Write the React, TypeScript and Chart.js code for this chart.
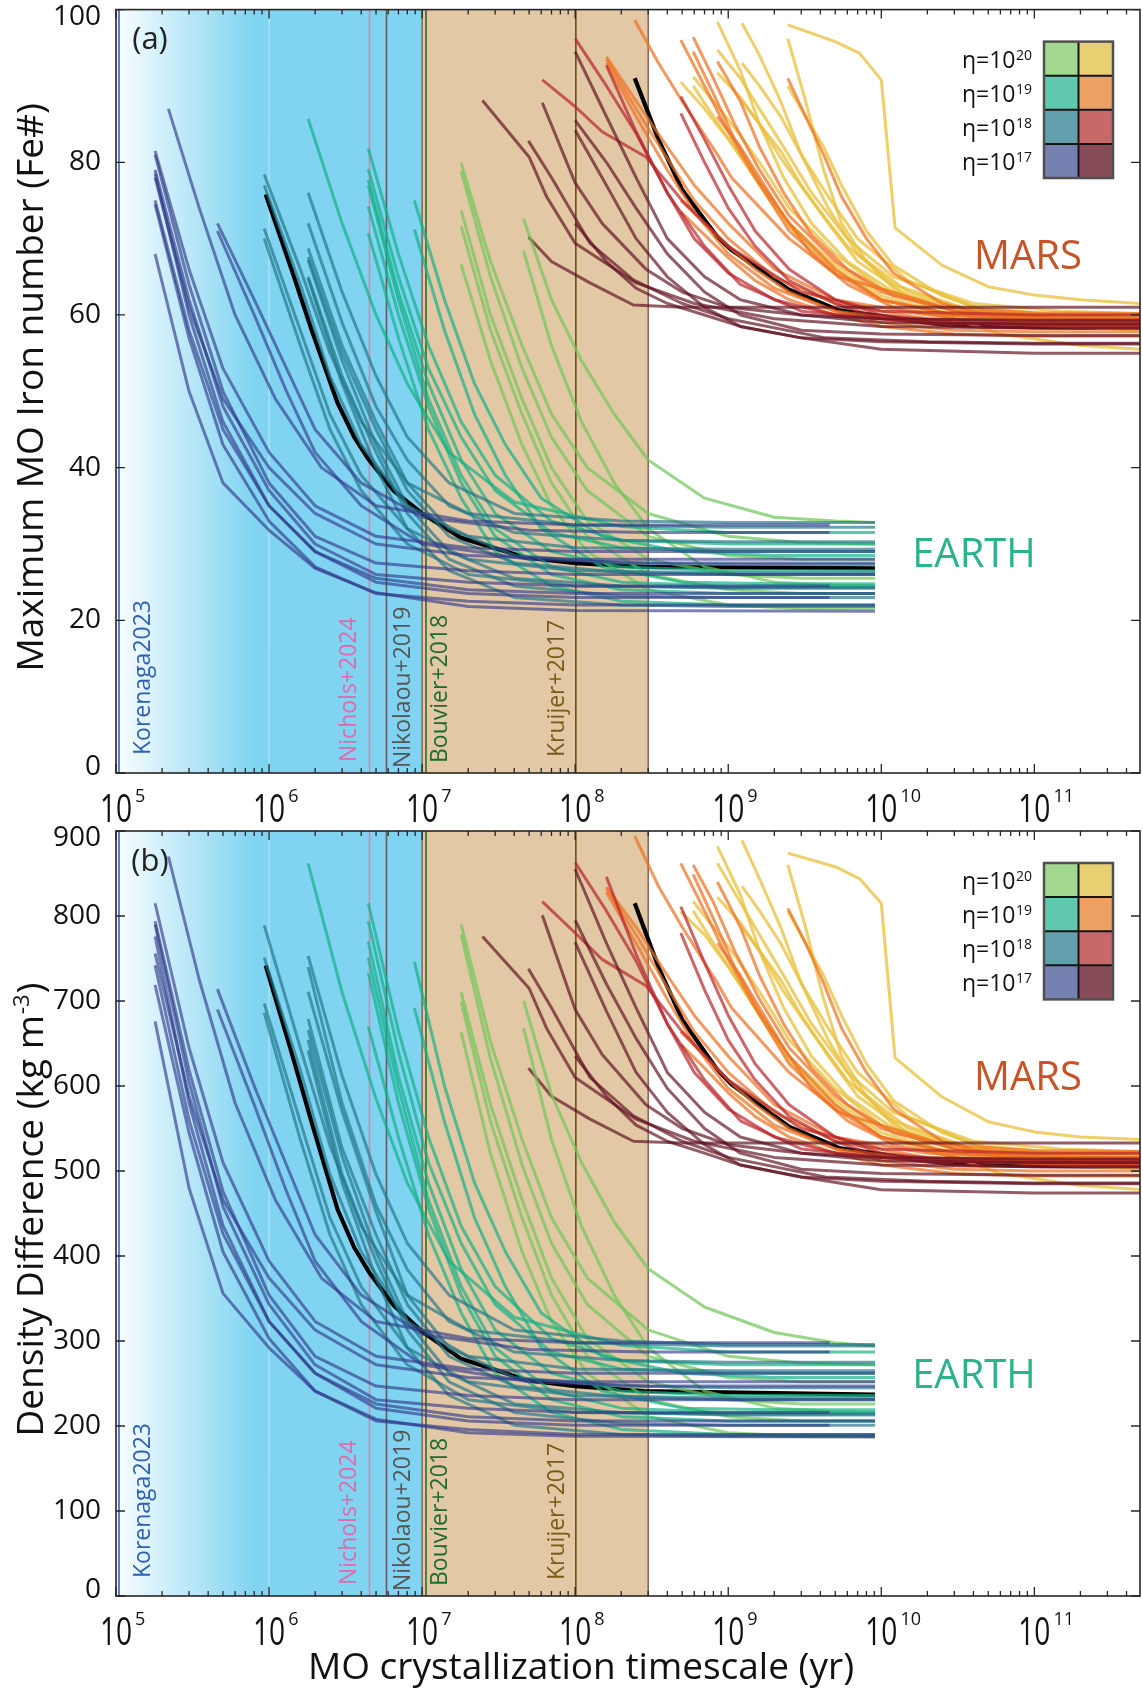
import React, { useEffect, useRef } from 'react';
import { Chart, registerables } from 'chart.js';

Chart.register(...registerables);

// ---------- axes ----------
const X_MIN = 1e5;
const X_MAX = 4.9e11;
const DECADES = [5, 6, 7, 8, 9, 10, 11];
const FE_TICKS = [0, 20, 40, 60, 80, 100];
const RHO_TICKS = [0, 100, 200, 300, 400, 500, 600, 700, 800, 900];

// ---------- shaded periods / literature markers ----------
const BLUE_BAND = [1e5, 1e7];
const BLUE_FADE_END = 8e5;
const TAN_BAND = [1e7, 3e8];
const REF_NAMES = ['Korenaga2023', 'Nichols+2024', 'Nikolaou+2019', 'Bouvier+2018', 'Kruijer+2017'];
const REF_TIMES = [1.046e5, 4.53e6, 5.85e6, 1.06e7, 1.01e8];
const REF_LINE_COLORS = ['#2f5fc0', '#e47ab8', '#5c5c5c', '#2a6a2e', '#6d4c14'];
const REF_TEXT_COLORS = ['#2d5fb4', '#e06aaa', '#555555', '#1e6b30', '#7a5a18'];

// ---------- legend ----------
const ETA_LABELS = [20, 19, 18, 17];

// ---------- Earth simulations ----------
const EARTH_GROUP_TIMES = [
  [1.8e5, 3e5, 5e5, 1e6, 2e6, 5e6, 2e7, 1e8],
  [2.2e5, 3.5e5, 6e5, 1.1e6, 2.2e6, 5e6, 2e7, 1e8],
  [4.6e5, 8e5, 1.3e6, 2e6, 4e6, 1e7, 5e7, 3e8],
  [9.3e5, 1.6e6, 2.5e6, 4e6, 8e6, 2e7, 1e8, 1e9],
  [1.8e6, 3e6, 5e6, 8e6, 1.5e7, 4e7, 2e8, 1e9],
  [4.45e6, 7e6, 1.1e7, 1.8e7, 3e7, 7e7, 2e8, 1e9],
  [8.9e6, 1.4e7, 2.2e7, 3.5e7, 6e7, 1.5e8, 5e8, 2e9],
  [1.8e7, 2.8e7, 4.5e7, 7e7, 1.2e8, 3e8, 1e9, 3e9],
  [4.6e7, 7e7, 1.1e8, 1.8e8, 3e8, 7e8, 2e9, 5e9],
];
const EARTH_GROUP = [1, 0, 0, 0, 0, 0, 0, 0, 0, 2, 2, 3, 3, 3, 3, 4, 4, 4, 4, 4, 4, 4, 4, 5, 5, 5, 5, 5, 5, 6, 6, 7, 7, 7, 7, 7, 8, 8];
const EARTH_ETA = [17, 17, 17, 17, 17, 17, 17, 17, 17, 17, 17, 18, 18, 18, 18, 18, 18, 18, 18, 18, 18, 18, 19, 19, 19, 19, 19, 19, 19, 19, 19, 20, 20, 20, 20, 20, 20, 20];
const EARTH_END = [4.6e9, 9.1e9, 9.1e9, 4.6e9, 9.1e9, 9.1e9, 4.6e9, 9.1e9, 9.1e9, 4.6e9, 9.1e9, 9.1e9, 9.1e9, 9.1e9, 9.1e9, 9.1e9, 9.1e9, 9.1e9, 9.1e9, 9.1e9, 9.1e9, 9.1e9, 9.1e9, 9.1e9, 9.1e9, 9.1e9, 9.1e9, 9.1e9, 9.1e9, 9.1e9, 9.1e9, 9.1e9, 9.1e9, 9.1e9, 9.1e9, 9.1e9, 9.1e9, 9.1e9];
const EARTH_FE = [
  [87, 74, 60, 49, 40, 35, 33, 32.5, 32.5],
  [81.5, 66, 53, 42, 35, 31, 29.5, 29, 29],
  [81, 64, 50, 38, 31, 27.5, 26.5, 26, 26],
  [79, 62, 48, 37, 30, 26, 25, 24.5, 24.5],
  [78.5, 60, 46, 35, 29, 25.5, 24, 23.5, 23.5],
  [78, 61, 49, 40, 34, 30, 28.5, 28, 28],
  [75, 58, 45, 35, 29, 25, 23.5, 23, 23],
  [74.5, 57, 43, 33, 27, 23.5, 22.5, 22, 22],
  [68, 50, 38, 31.8, 26.8, 23.6, 21.8, 21.3, 21.2],
  [72, 62, 53, 45, 38, 33.5, 31.8, 31.5, 31.5],
  [71, 60, 50, 42, 35, 30, 28, 27.5, 27.5],
  [78.4, 66, 55, 46, 38, 34, 32.5, 32.2, 32.2],
  [77, 64, 52, 43, 35, 31, 29.5, 29.3, 29.3],
  [71.3, 58, 47, 39, 32, 28, 26.5, 26.2, 26.2],
  [70, 56, 45, 37, 30, 26, 24.5, 24.3, 24.3],
  [76, 63, 52, 44, 38, 34, 33, 32.8, 32.8],
  [72, 59, 48, 41, 35, 31.5, 30.5, 30.3, 30.3],
  [68.7, 56, 46, 38, 32, 28.5, 27.5, 27.3, 27.3],
  [67.6, 55, 45, 37, 31, 27.5, 26.3, 26, 26],
  [67.2, 54, 43, 35, 29, 25.5, 24.5, 24.2, 24.2],
  [65, 52, 42, 34, 28, 24.5, 23.2, 23, 23],
  [64.8, 51, 40, 32, 26.5, 23, 22, 21.8, 21.8],
  [85.7, 72, 60, 51, 42, 35.5, 32.3, 31.5, 31.5],
  [81.8, 68, 56, 46, 39, 33, 30.5, 30, 30],
  [79.1, 65, 53, 44, 37, 31.5, 29.5, 29, 29],
  [77.7, 63, 51, 41, 34, 29, 27, 26.5, 26.5],
  [77, 62, 49, 39, 32, 27, 25, 24.5, 24.5],
  [74.2, 60, 48, 38, 31, 26, 24, 23.5, 23.5],
  [70.7, 57, 45, 36, 29, 24.5, 22.5, 22, 22],
  [75, 62, 51, 43, 36, 31, 29, 28.5, 28.5],
  [71.2, 58, 47, 39, 32, 27, 25, 24.8, 24.8],
  [79.9, 67, 56, 47, 40, 34, 31, 30.2, 30],
  [78.8, 65, 53, 44, 37, 31, 28.5, 28, 28],
  [73.7, 60, 49, 40, 33, 28, 26, 25.5, 25.5],
  [71.6, 58, 47, 38, 31, 26, 24, 23.5, 23.5],
  [66.6, 54, 43, 35, 29, 24, 22, 21.5, 21.5],
  [72.6, 62, 54, 47, 41, 36, 33.5, 33, 32.8],
  [68.4, 56, 46, 38, 32, 27, 25, 24.6, 24.5],
];
const EARTH_RHO = [
  [870, 725, 580, 466, 374, 323, 303, 298, 298],
  [815, 645, 510, 394, 323, 282, 267, 262, 262],
  [794, 619, 476, 354, 282, 247, 236, 231, 231],
  [790, 605, 458, 343, 272, 231, 221, 216, 216],
  [776, 580, 436, 323, 262, 226, 211, 206, 206],
  [756, 588, 466, 374, 313, 272, 257, 252, 252],
  [742, 560, 426, 323, 262, 221, 206, 201, 201],
  [719, 545, 405, 303, 241, 206, 196, 190, 190],
  [676, 480, 356, 292, 241, 208, 192, 188, 187],
  [714, 600, 507, 425, 354, 308, 290, 287, 287],
  [690, 578, 476, 394, 323, 272, 252, 247, 247],
  [789, 645, 530, 435, 354, 313, 298, 294, 294],
  [751, 619, 496, 405, 323, 282, 267, 265, 265],
  [697, 558, 445, 364, 292, 252, 236, 233, 233],
  [686, 537, 425, 343, 272, 231, 216, 214, 214],
  [753, 612, 496, 415, 354, 313, 300, 296, 296],
  [740, 580, 460, 384, 323, 287, 277, 275, 275],
  [711, 570, 452, 354, 292, 257, 247, 245, 245],
  [679, 527, 425, 343, 282, 247, 234, 231, 231],
  [666, 517, 405, 323, 262, 226, 216, 213, 213],
  [654, 496, 394, 313, 252, 216, 203, 201, 201],
  [642, 486, 374, 292, 236, 201, 190, 188, 188],
  [862, 710, 585, 486, 394, 328, 295, 287, 287],
  [815, 665, 540, 435, 364, 303, 277, 272, 272],
  [794, 640, 510, 415, 343, 287, 267, 262, 262],
  [770, 612, 486, 384, 313, 262, 241, 236, 236],
  [751, 598, 466, 364, 292, 241, 221, 216, 216],
  [733, 580, 456, 354, 282, 231, 211, 206, 206],
  [670, 540, 425, 333, 262, 216, 196, 190, 190],
  [746, 600, 486, 405, 333, 282, 262, 257, 257],
  [692, 558, 445, 364, 292, 241, 221, 219, 219],
  [790, 652, 537, 445, 374, 313, 282, 274, 272],
  [778, 632, 507, 415, 343, 282, 257, 252, 252],
  [710, 578, 466, 374, 303, 252, 231, 226, 226],
  [699, 558, 445, 354, 282, 231, 211, 206, 206],
  [663, 520, 405, 323, 262, 211, 192, 188, 188],
  [700, 590, 510, 440, 385, 340, 310, 298, 294],
  [668, 537, 435, 354, 292, 241, 221, 217, 216],
];
const EARTH_REF_TIMES = [9.5e5, 1.4e6, 1.9e6, 2.8e6, 3.6e6, 4.5e6, 6.5e6, 1e7, 1.8e7, 4.8e7, 1e8, 2.8e8, 9.1e9];
const EARTH_REF_FE = [75.8, 66, 58, 48.5, 44, 41, 37, 34, 30.8, 28.2, 27.5, 27, 26.8];
const EARTH_REF_RHO = [742, 640, 557, 455, 410, 381, 342, 311, 279, 254, 247, 241, 237];

// ---------- Mars simulations ----------
const MARS_END = 5e11;
const MARS_GROUP_TIMES = [
  [2.48e7, 5e7, 6.5e7, 1e8, 2.5e8, 6e8, 2e9, 1e10, 1e11],
  [4.95e7, 7e7, 1.25e8, 2.4e8, 5e8, 1e9, 4.3e9, 2e10, 1e11],
  [6.1e7, 1e8, 1.5e8, 2.9e8, 5e8, 1e9, 3e9, 1e10, 1e11],
  [1e8, 1.6e8, 2.5e8, 4e8, 7e8, 1.2e9, 3e9, 1e10, 1e11],
  [1.6e8, 2.5e8, 4e8, 6e8, 1e9, 2e9, 5e9, 2e10, 1e11],
  [2.45e8, 3.5e8, 5e8, 8.5e8, 1.05e9, 2.5e9, 5.3e9, 2.6e10, 1e11],
  [4.9e8, 7e8, 1e9, 1.5e9, 2.5e9, 5e9, 1e10, 3e10, 1e11],
  [5.9e8, 8e8, 1.1e9, 1.6e9, 2.5e9, 5e9, 1e10, 3e10, 1e11],
  [8.5e8, 1.2e9, 1.6e9, 2.3e9, 3.5e9, 6e9, 1.2e10, 4e10, 1.5e11],
  [1.23e9, 1.6e9, 2.2e9, 3e9, 4.5e9, 7e9, 1.5e10, 4e10, 1.5e11],
  [2.45e9, 3.2e9, 4.2e9, 5.5e9, 8e9, 1.2e10, 2.5e10, 6e10, 2e11],
  [2.45e9, 5e9, 7.2e9, 1e10, 1.23e10, 2.5e10, 5e10, 1e11, 2e11],
];
const MARS_GROUP = [0, 1, 1, 2, 2, 3, 3, 3, 3, 3, 4, 4, 4, 4, 5, 6, 6, 6, 6, 6, 6, 7, 7, 7, 8, 8, 8, 8, 9, 9, 10, 10, 11, 7, 9, 8, 10];
const MARS_ETA = [17, 17, 17, 17, 18, 18, 17, 17, 17, 17, 19, 19, 19, 18, 19, 19, 18, 18, 20, 19, 19, 19, 19, 20, 20, 19, 20, 20, 20, 20, 20, 19, 20, 20, 20, 19, 20];
const MARS_FE = [
  [88.1, 80.7, 75.5, 69.4, 64.2, 61.5, 59.5, 58.5, 58.3, 58.3],
  [82.8, 78, 69.4, 64.6, 61.5, 59.5, 57, 56.5, 56.3, 56.3],
  [70.2, 67, 64.2, 61.3, 61, 61, 61, 61, 61, 61],
  [87.8, 77.3, 72, 66, 63, 61, 60, 59.5, 59.3, 59.3],
  [90.8, 87.3, 84, 80.7, 75, 69, 63, 60.5, 60, 60],
  [96.2, 90, 83.8, 76, 69, 64, 60.5, 59.5, 59.2, 59.2],
  [94.5, 86, 78, 70, 65, 62, 60, 59, 58.8, 58.8],
  [85.5, 80, 74, 68, 63, 60, 58, 57.5, 57.3, 57.3],
  [84.2, 77, 70, 65, 61, 58.5, 57, 56.5, 56.2, 56.2],
  [72, 67, 63.5, 61.5, 60, 58.5, 57, 55.5, 55, 55],
  [93.8, 88, 82, 77, 72, 66, 62, 60, 59.5, 59.5],
  [93.5, 87, 80.5, 75, 70, 65, 61.5, 59.5, 59, 59],
  [93, 86, 79, 73.5, 68, 63.5, 60.5, 59, 58.7, 58.7],
  [92.7, 84, 76, 70, 65.5, 62, 60, 59, 58.8, 58.8],
  [98.6, 93, 88, 81, 78, 70, 65, 61, 60.3, 60.2],
  [96, 90, 84, 78, 71, 65.5, 62, 60, 59.5, 59.5],
  [88.6, 83, 77, 71, 66, 62, 60, 59, 58.7, 58.7],
  [86.4, 80, 74, 69, 64.5, 61.5, 59.5, 58.5, 58.3, 58.3],
  [90.5, 87, 83, 78, 72, 66.5, 62.5, 60, 59.5, 59.3],
  [75, 72, 69, 66, 63, 60.5, 59, 58, 57.8, 57.8],
  [73.5, 70.5, 67.5, 64.5, 62, 60, 58.5, 57.5, 57.2, 57.2],
  [96.4, 91, 85, 79, 73, 67, 63, 60.5, 60, 60],
  [94.5, 89, 83, 77.5, 72, 66, 62, 60, 59.6, 59.5],
  [91.2, 88, 84.5, 80, 74, 68, 63.5, 60.5, 60, 59.8],
  [98.4, 92, 85, 78, 72, 67, 63, 60.5, 60, 59.8],
  [93.2, 88, 82, 76, 70.5, 66, 62.5, 60, 59.5, 59.3],
  [94.7, 91, 87, 82, 76, 70, 65, 61.5, 60.5, 60.2],
  [91.7, 88.5, 85, 80, 75, 69, 64, 60.5, 59.8, 59.5],
  [98.2, 94, 88, 81, 74, 68, 63, 60.5, 59.8, 59.5],
  [93, 90, 86, 81, 75.5, 70, 64.5, 61, 60, 59.6],
  [96.2, 88, 79, 72, 67, 63.5, 60, 57.5, 56, 55.5],
  [91, 86, 81, 75.5, 70, 65.5, 61.5, 59.5, 58.7, 58.5],
  [98, 95.8, 94.3, 90.8, 71.4, 66.5, 63.7, 62.6, 62, 61.5],
  [90, 86, 82, 77, 71.5, 66, 62, 59.5, 59, 58.8],
  [88, 85, 81.5, 77, 72, 67, 62.5, 59.5, 58.5, 58],
  [86, 82, 78, 73, 68, 64, 61, 59, 58.5, 58.3],
  [90, 86, 82, 77, 71, 66.5, 62.5, 60, 59, 58.8],
];
const MARS_RHO = [
  [776, 715, 668, 610, 561, 535, 516, 507, 505, 505],
  [738, 692, 610, 565, 535, 516, 493, 488, 486, 486],
  [621, 588, 561, 535, 533, 533, 533, 533, 533, 533],
  [801, 690, 637, 578, 550, 531, 521, 516, 514, 514],
  [817, 780, 749, 718, 664, 607, 550, 526, 521, 521],
  [863, 806, 747, 673, 607, 559, 526, 516, 513, 513],
  [855, 768, 692, 616, 569, 540, 521, 512, 510, 510],
  [795, 720, 656, 597, 550, 521, 502, 497, 495, 495],
  [769, 688, 616, 569, 531, 507, 493, 488, 485, 485],
  [635, 588, 554, 535, 521, 507, 493, 478, 474, 474],
  [834, 787, 730, 683, 635, 578, 540, 521, 516, 516],
  [832, 778, 716, 664, 616, 569, 535, 516, 512, 512],
  [828, 768, 702, 649, 597, 554, 526, 512, 509, 509],
  [846, 755, 673, 616, 573, 540, 521, 512, 510, 510],
  [894, 835, 787, 721, 692, 616, 569, 531, 524, 523],
  [862, 806, 749, 692, 626, 573, 540, 521, 516, 516],
  [811, 745, 683, 626, 578, 540, 521, 512, 509, 509],
  [780, 713, 654, 607, 564, 535, 516, 507, 505, 505],
  [805, 778, 740, 692, 635, 583, 545, 521, 516, 514],
  [664, 635, 607, 578, 550, 526, 512, 502, 500, 500],
  [649, 621, 592, 564, 540, 521, 507, 497, 494, 494],
  [860, 816, 759, 702, 645, 588, 550, 526, 521, 521],
  [849, 797, 740, 687, 635, 578, 540, 521, 517, 516],
  [817, 787, 754, 711, 654, 597, 554, 526, 521, 519],
  [882, 825, 759, 692, 635, 588, 550, 526, 521, 519],
  [840, 787, 730, 673, 621, 578, 545, 521, 516, 514],
  [862, 816, 778, 730, 673, 616, 569, 535, 526, 523],
  [822, 792, 759, 711, 664, 607, 559, 526, 519, 516],
  [889, 844, 787, 721, 654, 597, 550, 526, 519, 516],
  [835, 806, 768, 721, 668, 616, 564, 531, 521, 517],
  [860, 787, 702, 635, 588, 554, 521, 497, 483, 478],
  [809, 768, 721, 668, 616, 573, 535, 516, 509, 507],
  [874, 858, 844, 815, 633, 587, 558, 546, 540, 537],
  [806, 768, 730, 683, 630, 578, 540, 516, 512, 510],
  [787, 759, 725, 683, 635, 588, 545, 516, 507, 502],
  [768, 730, 692, 645, 597, 559, 531, 512, 507, 505],
  [806, 768, 730, 683, 626, 583, 545, 521, 512, 510],
];
const MARS_REF_FE = [91, 83, 76.4, 70.2, 68.5, 63.3, 60.6, 58.7, 58.4, 58.3];
const MARS_REF_RHO = [815, 740, 678, 619, 602, 552, 527, 509, 506, 505];
const MARS_REF_GROUP = 5;

// ---------- styles ----------
const FONT = '"Open Sans", "DejaVu Sans", sans-serif';
const EARTH_LINE: Record<number, string> = {
  17: 'rgba(48, 58, 138, 0.64)',
  18: 'rgba(34, 118, 136, 0.68)',
  19: 'rgba(20, 176, 134, 0.7)',
  20: 'rgba(112, 198, 90, 0.72)',
};
const MARS_LINE: Record<number, string> = {
  17: 'rgba(96, 16, 32, 0.68)',
  18: 'rgba(184, 36, 42, 0.7)',
  19: 'rgba(238, 114, 34, 0.72)',
  20: 'rgba(232, 192, 58, 0.76)',
};
const EARTH_SWATCH: Record<number, string> = { 20: '#a1d78f', 19: '#5fc8ae', 18: '#62a0ad', 17: '#7581b0' };
const MARS_SWATCH: Record<number, string> = { 20: '#e8d072', 19: '#eda063', 18: '#c86868', 17: '#884c58' };

type Panel = {
  top: number;
  bottom: number;
  yMax: number;
  yTicks: number[];
  letter: string;
  earth: number[][];
  earthRef: number[];
  mars: number[][];
  marsRef: number[];
  titleBase: string;
  titleSup: string;
  titleTail: string;
  showXTitle: boolean;
};

const PANEL_A: Panel = {
  top: 9.6, bottom: 773, yMax: 100, yTicks: FE_TICKS, letter: '(a)',
  earth: EARTH_FE, earthRef: EARTH_REF_FE, mars: MARS_FE, marsRef: MARS_REF_FE,
  titleBase: 'Maximum MO Iron number (Fe#)', titleSup: '', titleTail: '', showXTitle: false,
};
const PANEL_B: Panel = {
  top: 831, bottom: 1596, yMax: 900, yTicks: RHO_TICKS, letter: '(b)',
  earth: EARTH_RHO, earthRef: EARTH_REF_RHO, mars: MARS_RHO, marsRef: MARS_REF_RHO,
  titleBase: 'Density Difference (kg m', titleSup: '-3', titleTail: ')', showXTitle: true,
};

const W = 1143;
const H = 1690;

function buildDatasets(p: Panel) {
  const sets: any[] = [];
  const base = { pointRadius: 0, borderWidth: 3, tension: 0, fill: false, borderJoinStyle: 'round', borderCapStyle: 'butt' };
  const eOrder = EARTH_FE.map((_, i) => i).sort((a, b) => EARTH_ETA[a] - EARTH_ETA[b]);
  eOrder.forEach((i) => {
    const times = [...EARTH_GROUP_TIMES[EARTH_GROUP[i]], EARTH_END[i]];
    sets.push({ ...base, data: p.earth[i].map((v, k) => ({ x: times[k], y: v })), borderColor: EARTH_LINE[EARTH_ETA[i]] });
  });
  const mOrder = MARS_FE.map((_, i) => i).sort((a, b) => MARS_ETA[a] - MARS_ETA[b]);
  mOrder.forEach((i) => {
    const times = [...MARS_GROUP_TIMES[MARS_GROUP[i]], MARS_END];
    sets.push({ ...base, data: p.mars[i].map((v, k) => ({ x: times[k], y: v })), borderColor: MARS_LINE[MARS_ETA[i]] });
  });
  sets.push({ ...base, borderWidth: 4.2, borderColor: '#000', data: p.earthRef.map((v, k) => ({ x: EARTH_REF_TIMES[k], y: v })) });
  const mt = [...MARS_GROUP_TIMES[MARS_REF_GROUP], MARS_END];
  sets.push({ ...base, borderWidth: 4.2, borderColor: '#000', data: p.marsRef.map((v, k) => ({ x: mt[k], y: v })) });
  return sets;
}

function makePlugins(p: Panel) {
  const background = {
    id: 'background',
    beforeDatasetsDraw(chart: any) {
      const { ctx, chartArea: a, scales } = chart;
      const X = (v: number) => scales.x.getPixelForValue(v);
      ctx.save();
      ctx.beginPath();
      ctx.rect(a.left, a.top, a.right - a.left, a.bottom - a.top);
      ctx.clip();
      const h = a.bottom - a.top;
      const x0 = X(BLUE_BAND[0]);
      const xf = X(BLUE_FADE_END);
      const g = ctx.createLinearGradient(x0, 0, xf, 0);
      g.addColorStop(0, 'rgba(128,212,242,0.04)');
      g.addColorStop(1, 'rgba(128,212,242,1)');
      ctx.fillStyle = g;
      ctx.fillRect(x0, a.top, xf - x0, h);
      ctx.fillStyle = 'rgb(128,212,242)';
      ctx.fillRect(xf - 0.5, a.top, X(BLUE_BAND[1]) - xf + 0.5, h);
      ctx.strokeStyle = 'rgba(255,255,255,0.45)';
      ctx.lineWidth = 1;
      ctx.beginPath();
      ctx.moveTo(X(1e6), a.top);
      ctx.lineTo(X(1e6), a.bottom);
      ctx.stroke();
      const t0 = X(TAN_BAND[0]);
      const t1 = X(TAN_BAND[1]);
      ctx.fillStyle = 'rgb(226,200,165)';
      ctx.fillRect(t0, a.top, t1 - t0, h);
      ctx.strokeStyle = '#8b6b57';
      ctx.lineWidth = 1.6;
      [t0, t1].forEach((x) => {
        ctx.beginPath();
        ctx.moveTo(x, a.top);
        ctx.lineTo(x, a.bottom);
        ctx.stroke();
      });
      const labelDx = [24, -20, 17, 14, -18];
      const labelDy = [18, 11, 5, 10, 16];
      REF_TIMES.forEach((t, i) => {
        const x = X(t);
        ctx.strokeStyle = REF_LINE_COLORS[i];
        ctx.lineWidth = 1.6;
        ctx.beginPath();
        ctx.moveTo(x, a.top);
        ctx.lineTo(x, a.bottom);
        ctx.stroke();
        ctx.save();
        ctx.translate(x + labelDx[i], a.bottom - labelDy[i]);
        ctx.rotate(-Math.PI / 2);
        ctx.font = `23px ${FONT}`;
        ctx.fillStyle = REF_TEXT_COLORS[i];
        ctx.textAlign = 'left';
        ctx.textBaseline = 'middle';
        ctx.fillText(REF_NAMES[i], 0, 0);
        ctx.restore();
      });
      ctx.restore();
    },
  };

  const foreground = {
    id: 'foreground',
    afterDatasetsDraw(chart: any) {
      const { ctx, chartArea: a, scales } = chart;
      const X = (v: number) => scales.x.getPixelForValue(v);
      const Y = (v: number) => scales.y.getPixelForValue(v);
      ctx.save();
      ctx.strokeStyle = '#262626';
      ctx.lineWidth = 1.6;
      ctx.strokeRect(a.left, a.top, a.right - a.left, a.bottom - a.top);
      ctx.lineWidth = 1.3;
      for (const d of DECADES) {
        for (let m = 1; m <= 9; m++) {
          const v = m * Math.pow(10, d);
          if (v > X_MAX) break;
          const x = X(v);
          const len = m === 1 ? 9 : 5;
          ctx.beginPath();
          ctx.moveTo(x, a.bottom);
          ctx.lineTo(x, a.bottom - len);
          ctx.moveTo(x, a.top);
          ctx.lineTo(x, a.top + len);
          ctx.stroke();
        }
      }
      for (const v of p.yTicks) {
        const y = Y(v);
        ctx.beginPath();
        ctx.moveTo(a.left, y);
        ctx.lineTo(a.left + 9, y);
        ctx.moveTo(a.right, y);
        ctx.lineTo(a.right - 9, y);
        ctx.stroke();
      }
      ctx.fillStyle = '#111';
      ctx.font = `28px ${FONT}`;
      ctx.textAlign = 'right';
      ctx.textBaseline = 'middle';
      for (const v of p.yTicks) {
        const y = Math.min(Math.max(Y(v), a.top + 7), a.bottom - 6);
        ctx.fillText(String(v), 101, y);
      }
      const baseY = a.bottom + 49;
      for (const d of DECADES) {
        const x = X(Math.pow(10, d));
        ctx.save();
        ctx.translate(x, baseY);
        ctx.scale(0.74, 1);
        ctx.font = `38px ${FONT}`;
        ctx.textAlign = 'center';
        ctx.textBaseline = 'alphabetic';
        ctx.fillText('10', 0, 0);
        const w = ctx.measureText('10').width * 0.74;
        ctx.restore();
        ctx.font = `18px ${FONT}`;
        ctx.textAlign = 'left';
        ctx.textBaseline = 'alphabetic';
        ctx.fillText(String(d), x + w / 2 + 3, baseY - 20);
      }
      ctx.save();
      ctx.translate(30, (a.top + a.bottom) / 2 - 4);
      ctx.rotate(-Math.PI / 2);
      ctx.textAlign = 'left';
      ctx.textBaseline = 'alphabetic';
      ctx.font = `37px ${FONT}`;
      const w1 = ctx.measureText(p.titleBase).width;
      const w3 = ctx.measureText(p.titleTail).width;
      ctx.font = `22px ${FONT}`;
      const w2 = p.titleSup ? ctx.measureText(p.titleSup).width + 2 : 0;
      let tx = -(w1 + w2 + w3) / 2;
      ctx.font = `37px ${FONT}`;
      ctx.fillText(p.titleBase, tx, 13);
      tx += w1;
      if (p.titleSup) {
        ctx.font = `22px ${FONT}`;
        ctx.fillText(p.titleSup, tx + 1, -1);
        tx += w2;
        ctx.font = `37px ${FONT}`;
        ctx.fillText(p.titleTail, tx, 13);
      }
      ctx.restore();
      if (p.showXTitle) {
        ctx.font = `37px ${FONT}`;
        ctx.textAlign = 'center';
        ctx.textBaseline = 'middle';
        ctx.fillText('MO crystallization timescale (yr)', 581, 1668);
      }
      ctx.font = `31px ${FONT}`;
      ctx.textAlign = 'center';
      ctx.textBaseline = 'middle';
      ctx.fillStyle = '#222';
      ctx.fillText(p.letter, 150, a.top + 31);
      ctx.font = `40px ${FONT}`;
      ctx.fillStyle = '#c85426';
      ctx.fillText('MARS', 1028, a.top + 248);
      ctx.fillStyle = '#2ab38c';
      ctx.fillText('EARTH', 974, a.top + 546);
      const lx = 1044;
      const cw = 34.5;
      const ch = 34.1;
      const ly = a.top + 32;
      ETA_LABELS.forEach((eta, i) => {
        const y0 = ly + i * ch;
        ctx.fillStyle = EARTH_SWATCH[eta];
        ctx.fillRect(lx, y0, cw, ch);
        ctx.fillStyle = MARS_SWATCH[eta];
        ctx.fillRect(lx + cw, y0, cw, ch);
        const cy = y0 + ch / 2;
        ctx.fillStyle = '#111';
        ctx.font = `14px ${FONT}`;
        ctx.textBaseline = 'alphabetic';
        ctx.textAlign = 'left';
        const sup = String(eta);
        const ws = ctx.measureText(sup).width;
        ctx.fillText(sup, 1032 - ws, cy + 1);
        ctx.font = `23px ${FONT}`;
        ctx.textAlign = 'right';
        ctx.fillText('\u03b7=10', 1032 - ws - 0.5, cy + 9);
      });
      ctx.strokeStyle = '#141414';
      ctx.lineWidth = 2;
      ctx.beginPath();
      for (let i = 1; i < 4; i++) {
        ctx.moveTo(lx, ly + i * ch);
        ctx.lineTo(lx + 2 * cw, ly + i * ch);
      }
      ctx.moveTo(lx + cw, ly);
      ctx.lineTo(lx + cw, ly + 4 * ch);
      ctx.stroke();
      ctx.strokeStyle = '#505050';
      ctx.lineWidth = 2.5;
      ctx.strokeRect(lx, ly, 2 * cw, 4 * ch);
      ctx.restore();
    },
  };
  return [background, foreground];
}

function makeChart(canvas: HTMLCanvasElement, p: Panel) {
  return new Chart(canvas, {
    type: 'line',
    data: { datasets: buildDatasets(p) },
    options: {
      responsive: false,
      animation: false,
      events: [],
      layout: { padding: { left: 116, right: W - 1140, top: p.top, bottom: H - p.bottom } },
      scales: {
        x: { type: 'logarithmic', min: X_MIN, max: X_MAX, display: false },
        y: { type: 'linear', min: 0, max: p.yMax, display: false },
      },
      plugins: { legend: { display: false }, tooltip: { enabled: false }, title: { display: false } },
    } as any,
    plugins: makePlugins(p),
  });
}

export default function App() {
  const refA = useRef<HTMLCanvasElement>(null);
  const refB = useRef<HTMLCanvasElement>(null);
  useEffect(() => {
    const ca = makeChart(refA.current!, PANEL_A);
    const cb = makeChart(refB.current!, PANEL_B);
    return () => {
      ca.destroy();
      cb.destroy();
    };
  }, []);
  const cs: React.CSSProperties = { position: 'absolute', left: 0, top: 0, width: W, height: H };
  return (
    <div style={{ position: 'absolute', left: 0, top: 0, width: W, height: H, background: '#fff' }}>
      <canvas ref={refA} width={W} height={H} style={cs} />
      <canvas ref={refB} width={W} height={H} style={cs} />
    </div>
  );
}
